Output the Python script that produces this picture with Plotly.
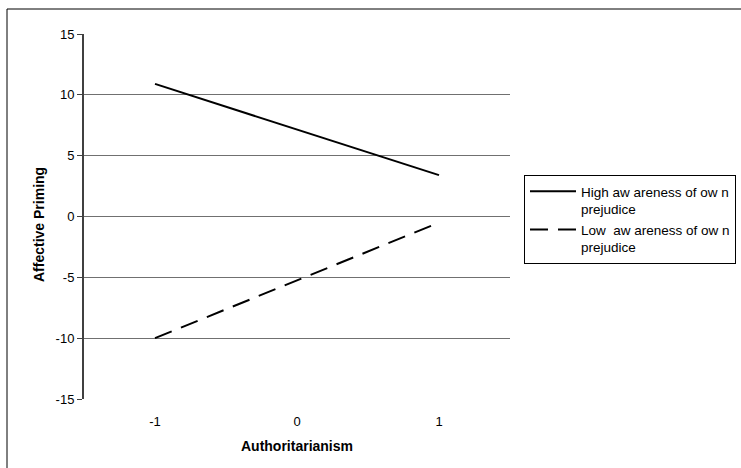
import plotly.graph_objects as go

categories = [-1, 0, 1]
high_awareness = [10.9, 7.15, 3.4]
low_awareness = [-10.0, -5.25, -0.5]
y_ticks = [-15, -10, -5, 0, 5, 10, 15]

W, H = 741, 468
L, R, T, B = 84, 231, 34, 69
pw = W - L - R
ph = H - T - B

def px_x(x):
    return (x - L) / pw

def px_y(y):
    return (H - B - y) / ph

fig = go.Figure()
fig.add_trace(go.Scatter(
    x=categories, y=high_awareness, mode="lines",
    name="High aw areness of ow n<br>prejudice",
    line=dict(color="black", width=2),
))
fig.add_trace(go.Scatter(
    x=categories, y=low_awareness, mode="lines",
    name="Low  aw areness of ow n<br>prejudice",
    line=dict(color="black", width=2, dash="18px,10px"),
))

FAM = "Liberation Sans, Arial, sans-serif"
font = dict(family=FAM, size=13, color="black")
title_font = dict(family=FAM, size=14, color="black")

fig.update_layout(
    template="none",
    width=W, height=H,
    margin=dict(l=L, r=R, t=T, b=B, pad=0, autoexpand=False),
    paper_bgcolor="white", plot_bgcolor="white",
    font=font,
    showlegend=True,
    legend=dict(
        x=px_x(524), y=px_y(175), xanchor="left", yanchor="top",
        bordercolor="black", borderwidth=1, bgcolor="white",
        font=dict(family=FAM, size=13.5, color="black"),
        valign="top", itemwidth=46,
    ),
    xaxis=dict(
        range=[-1.5, 1.5], tickvals=categories, ticktext=[str(c) for c in categories],
        showgrid=False, zeroline=False, showline=False,
        ticks="outside", ticklen=10, tickcolor="rgba(0,0,0,0)",
        title=dict(text="<b>Authoritarianism</b>", font=title_font, standoff=13),
        tickfont=font, automargin=False,
    ),
    yaxis=dict(
        range=[-15, 15], tickvals=y_ticks, ticktext=[str(v) for v in y_ticks],
        showgrid=True, gridcolor="#707070", gridwidth=1,
        zeroline=False, showline=True, linecolor="#404040", linewidth=2,
        ticks="outside", ticklen=5, tickcolor="#404040", tickwidth=1,
        tickfont=font, automargin=False,
    ),
    annotations=[
        dict(text="<b>Affective Priming</b>", textangle=-90, showarrow=False,
             xref="paper", yref="paper", x=px_x(39), y=px_y(225),
             xanchor="center", yanchor="middle", font=title_font),
    ],
    shapes=[
        dict(type="rect", xref="paper", yref="paper",
             x0=px_x(7), x1=px_x(760), y0=px_y(490), y1=px_y(9),
             line=dict(color="black", width=1), layer="below"),
    ],
)

fig.write_html("out.html", config={"displayModeBar": False},
               post_script="document.body.style.margin='0';")
